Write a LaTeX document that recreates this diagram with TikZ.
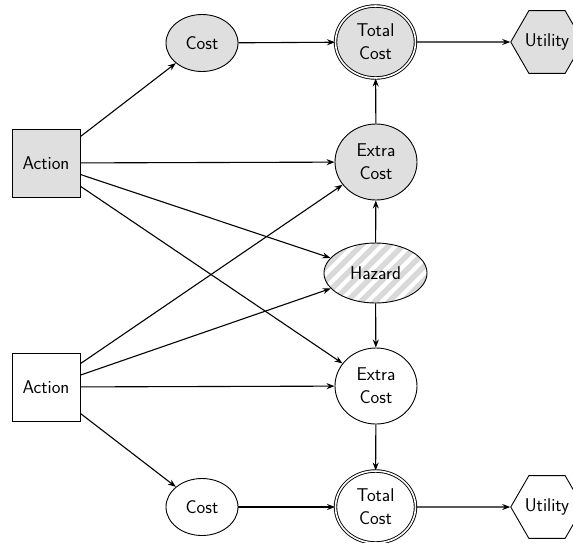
\documentclass[tikz,border=0pt]{standalone}
\usetikzlibrary{shapes.geometric,arrows.meta}
\begin{document}
\begin{tikzpicture}[x=1pt,y=-1pt,
  every node/.style={font=\fontsize{18.5}{23}\selectfont\sffamily, align=center, inner sep=0pt, line width=0.9pt},
  decision/.style={draw, rectangle, minimum width=68pt, minimum height=68pt},
  chance/.style={draw, ellipse, minimum width=72pt, minimum height=57pt},
  extra/.style={draw, ellipse, minimum width=82pt, minimum height=76pt},
  total/.style={draw, ellipse, double, double distance=1.6pt, minimum width=80pt, minimum height=72pt},
  utility/.style={draw, regular polygon, regular polygon sides=6, minimum size=70pt},
  shaded/.style={fill=gray!25},
  hatched/.style={path picture={
      \foreach \k in {-9,...,9}
        \draw[gray!30, line width=5.5pt]
          ([xshift=\k*14pt]path picture bounding box.center) +(-60pt,-60pt) -- +(60pt,60pt);
    }},
  link/.style={-{Stealth[length=8pt,width=6pt]}, line width=1.1pt}
]
\useasboundingbox (0,0) rectangle (573,542);

% upper decision network (grey)
\node[decision, shaded] (act1) at (46,163) {Action};
\node[chance, shaded] (cost1) at (202,43) {Cost};
\node[total, shaded] (tot1) at (375.5,42) {Total\\Cost};
\node[utility, shaded] (ut1) at (547,42) {Utility};
\node[extra, shaded] (ext1) at (376,162) {Extra\\Cost};

% shared hazard node
\node[draw, ellipse, minimum width=103pt, minimum height=60pt, hatched] (haz) at (375.5,273) {Hazard};

% lower decision network (white)
\node[decision] (act2) at (46,387) {Action};
\node[extra] (ext2) at (376,386) {Extra\\Cost};
\node[chance] (cost2) at (202,507) {Cost};
\node[total] (tot2) at (375.5,507) {Total\\Cost};
\node[utility] (ut2) at (547,507) {Utility};

% connectors from the upper action
\draw[link] (act1) -- (cost1);
\draw[link] (act1) -- (ext1);
\draw[link] (act1) -- (haz);
\draw[link] (act1) -- (ext2);

% connectors from the lower action
\draw[link] (act2) -- (ext1);
\draw[link] (act2) -- (haz);
\draw[link] (act2) -- (ext2);
\draw[link] (act2) -- (cost2);

% cost aggregation and utilities
\draw[link] (cost1) -- (tot1);
\draw[link] (ext1) -- (tot1);
\draw[link] (haz) -- (ext1);
\draw[link] (haz) -- (ext2);
\draw[link] (ext2) -- (tot2);
\draw[link] (cost2) -- (tot2);
\draw[link] (tot1) -- (ut1);
\draw[link] (tot2) -- (ut2);
\end{tikzpicture}
\end{document}
